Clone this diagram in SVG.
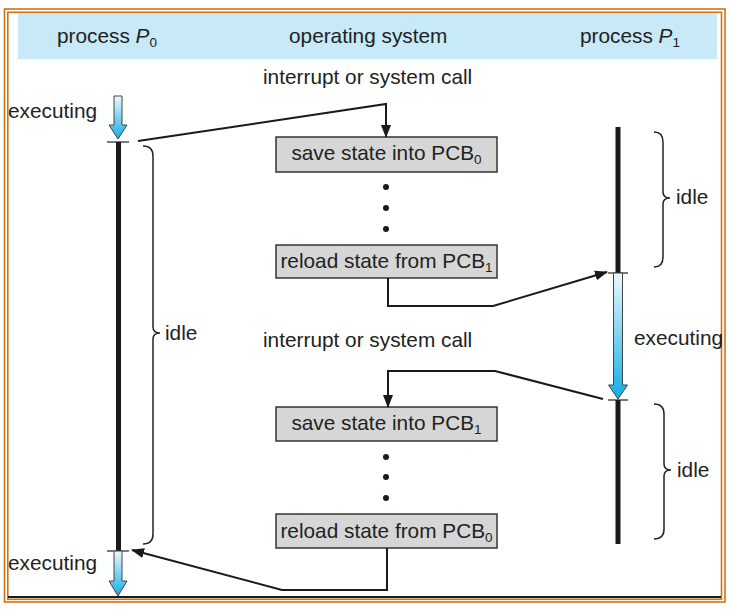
<svg xmlns="http://www.w3.org/2000/svg" width="733" height="610" viewBox="0 0 733 610">
<defs>
<linearGradient id="blue" x1="0" y1="0" x2="0" y2="1">
<stop offset="0" stop-color="#eef8fc"/>
<stop offset="1" stop-color="#0fade6"/>
</linearGradient>
<marker id="ah" markerUnits="userSpaceOnUse" markerWidth="13" markerHeight="10" refX="12" refY="5" orient="auto">
<path d="M0,0 L13,5 L0,10 Z" fill="#1a1a1a"/>
</marker>
</defs>
<style>
text{font-family:"Liberation Sans",Arial,sans-serif;font-size:20.8px;fill:#222;}
.sub{font-size:13.5px;}
.box{fill:#d6d6d6;stroke:#333;stroke-width:1.5;}
.con{fill:none;stroke:#1a1a1a;stroke-width:2;}
.brace{fill:none;stroke:#222;stroke-width:1.5;}
.tick{stroke:#222;stroke-width:1.2;}
.bar{stroke:#1a1a1a;stroke-width:5;}
.arr{fill:url(#blue);stroke:#444;stroke-width:1;}
.frame{fill:none;stroke:#d2720f;stroke-width:1.6;}
</style>
<rect x="0" y="0" width="733" height="610" fill="#ffffff"/>
<g id="frame">
<rect class="frame" x="4.5" y="9" width="720.5" height="593"/>
<rect class="frame" x="7.8" y="12.3" width="713.7" height="587"/>
<line x1="8" y1="597" x2="721" y2="597" stroke="#1a1a1a" stroke-width="1.8"/>
</g>
<g id="header">
<rect x="18" y="13" width="699" height="46" fill="#c7e9f8"/>
<text x="57" y="43">process <tspan font-style="italic">P</tspan><tspan class="sub" dy="4">0</tspan></text>
<text x="289" y="43">operating system</text>
<text x="580" y="43">process <tspan font-style="italic">P</tspan><tspan class="sub" dy="4">1</tspan></text>
</g>
<g id="p0-timeline">
<path class="arr" d="M114,96 L122,96 L122,125 L127,125 L118,139 L109,125 L114,125 Z"/>
<line class="tick" x1="107" y1="142" x2="129" y2="142"/>
<line class="bar" x1="118.5" y1="142" x2="118.5" y2="551"/>
<line class="tick" x1="107" y1="551" x2="129" y2="551"/>
<path class="arr" d="M114,551 L122,551 L122,581 L127,581 L118,596 L109,581 L114,581 Z"/>
<text x="8" y="118">executing</text>
<text x="8" y="570">executing</text>
<path class="brace" d="M143,146 Q153,146 153,156 L153,327 Q153,333 160,333 Q153,333 153,339 L153,534 Q153,544 143,544"/>
<text x="165" y="340">idle</text>
</g>
<g id="p1-timeline">
<line class="bar" x1="618" y1="127" x2="618" y2="273"/>
<line class="tick" x1="608" y1="273" x2="628" y2="273"/>
<path class="arr" d="M613.5,273 L622.5,273 L622.5,385 L627.5,385 L618,399 L608.5,385 L613.5,385 Z"/>
<line class="tick" x1="608" y1="400" x2="628" y2="400"/>
<line class="bar" x1="618" y1="400" x2="618" y2="544"/>
<path class="brace" d="M654,132 Q663,132 663,142 L663,192 Q663,198 670,198 Q663,198 663,204 L663,257 Q663,267 654,267"/>
<text x="676" y="204">idle</text>
<text x="634" y="345">executing</text>
<path class="brace" d="M654,404 Q664,404 664,414 L664,464 Q664,470 671,470 Q664,470 664,476 L664,529 Q664,539 654,539"/>
<text x="677" y="477">idle</text>
</g>
<g id="os-labels">
<text x="263" y="84">interrupt or system call</text>
<text x="263" y="347">interrupt or system call</text>
</g>
<g id="box-save0">
<rect class="box" x="276" y="137" width="221" height="35"/>
<text x="386.5" y="160" text-anchor="middle">save state into PCB<tspan class="sub" dy="4">0</tspan></text>
</g>
<g id="dots1">
<circle cx="386" cy="187" r="3" fill="#1a1a1a"/>
<circle cx="386" cy="208" r="3" fill="#1a1a1a"/>
<circle cx="386" cy="229" r="3" fill="#1a1a1a"/>
</g>
<g id="box-reload1">
<rect class="box" x="276" y="245" width="221" height="33"/>
<text x="386.5" y="268" text-anchor="middle">reload state from PCB<tspan class="sub" dy="4">1</tspan></text>
</g>
<g id="box-save1">
<rect class="box" x="276" y="407" width="221" height="34"/>
<text x="386.5" y="430" text-anchor="middle">save state into PCB<tspan class="sub" dy="4">1</tspan></text>
</g>
<g id="dots2">
<circle cx="386" cy="457" r="3" fill="#1a1a1a"/>
<circle cx="386" cy="477" r="3" fill="#1a1a1a"/>
<circle cx="386" cy="498" r="3" fill="#1a1a1a"/>
</g>
<g id="box-reload0">
<rect class="box" x="276" y="514" width="221" height="34"/>
<text x="386.5" y="538" text-anchor="middle">reload state from PCB<tspan class="sub" dy="4">0</tspan></text>
</g>
<g id="connectors">
<polyline class="con" points="138,141 386,104 386,137" marker-end="url(#ah)"/>
<polyline class="con" points="388,278 388,306 493,306 607,272" marker-end="url(#ah)"/>
<polyline class="con" points="603,399 495,371 388,371 388,407" marker-end="url(#ah)"/>
<polyline class="con" points="387,548 387,590 282,590 132,550" marker-end="url(#ah)"/>
</g>
</svg>
